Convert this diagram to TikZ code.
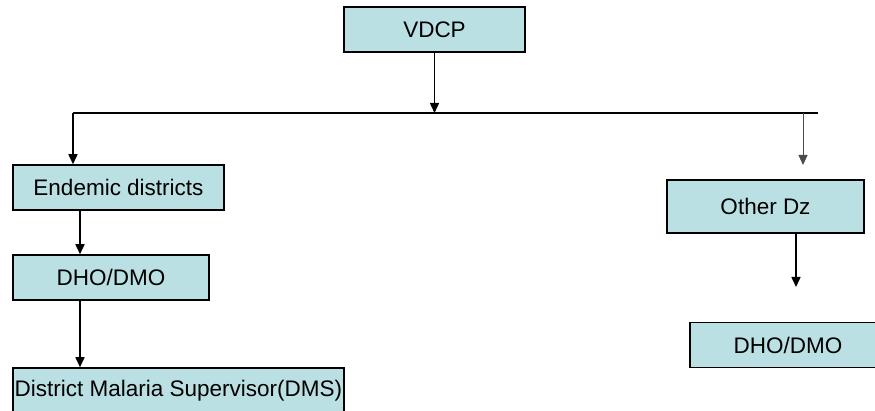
\documentclass[tikz,border=0pt]{standalone}
\usepackage{fontspec}
\setmainfont{Liberation Sans}
\usetikzlibrary{arrows.meta}
\definecolor{boxFill}{RGB}{187,224,227}
\tikzset{
    objBox/.style={rectangle, minimum height=45pt, inner sep=0pt, text centered, draw=black, line width=1.5pt, fill=boxFill, font=\fontsize{22.5}{26}\selectfont},
    arrow/.style={line width=1.5pt, -{Triangle[width=9pt,length=10pt]}},
    thinArrow/.style={line width=0.9pt, draw=black!70, -{Triangle[width=9pt,length=10pt]}},
    busLine/.style={line width=1.5pt}
}
\begin{document}
\begin{tikzpicture}[x=1pt, y=-1pt]
    \useasboundingbox (0,0) rectangle (875,411);
    \clip (0,0) rectangle (875,411);

    \node (vdcp) [objBox, minimum width=181pt] at (434.5,29.5) {VDCP};
    \node (endemic) [objBox, minimum width=211pt] at (118.5,187.5) {Endemic districts};
    \node (dhoL) [objBox, minimum width=196pt] at (111,277.5) {DHO/DMO};
    \node (dms) [objBox, minimum width=331pt] at (178.5,390.5) {District Malaria Supervisor(DMS)};

    \node (other) [objBox, minimum width=197pt, minimum height=53pt] at (765.5,206.5) {Other Dz};
    \node (dhoR) [objBox, minimum width=196pt] at (788,345) {DHO/DMO};

    \coordinate (busL) at (73,113);
    \coordinate (busR) at (818,113);
    \coordinate (colL) at (80,0);
    \coordinate (dropR) at (803,165);
    \coordinate (otherEnd) at (796,287);

    \draw[busLine] (busL) -- (busR);
    \draw[arrow] (vdcp) -- (vdcp.south |- busL);
    \draw[arrow] (busL) -- (busL |- endemic.north);
    \draw[thinArrow] (dropR |- busR) -- (dropR);

    \draw[arrow] (endemic.south -| colL) -- (dhoL.north -| colL);
    \draw[arrow] (dhoL.south -| colL) -- (dms.north -| colL);

    \draw[arrow] (other.south -| otherEnd) -- (otherEnd);

\end{tikzpicture}
\end{document}
